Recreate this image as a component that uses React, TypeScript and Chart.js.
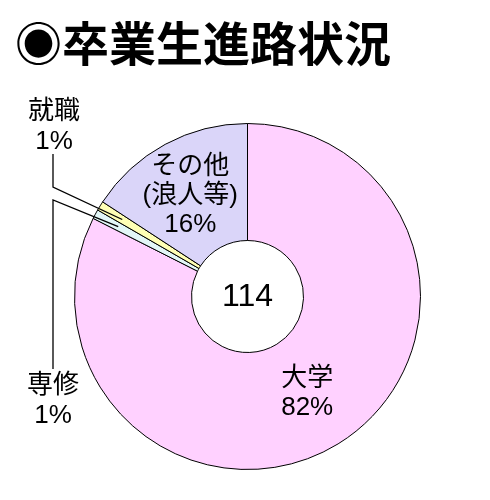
import { useEffect, useRef } from "react";
import { Chart, registerables } from "chart.js";

Chart.register(...registerables);

// 卒業生 114 名の進路
const categories = ["大学", "専修", "就職", "その他"];
const labelLines = [["大学"], ["専修"], ["就職"], ["その他", "(浪人等)"]];
const counts = [94, 1, 1, 18];
const percents = ["82%", "1%", "1%", "16%"];
const totalText = "114";
const colors = ["#FFD1FF", "#E3F7F7", "#FFFFB5", "#DAD5F9"];

const FONT = '"Liberation Sans", "Noto Sans CJK JP", sans-serif';

const annotate = {
  id: "annotate",
  afterDatasetsDraw(chart: any) {
    const ctx = chart.ctx as CanvasRenderingContext2D;
    const arcs = chart.getDatasetMeta(0).data as any[];
    ctx.save();
    ctx.fillStyle = "#000";
    ctx.strokeStyle = "#000";
    ctx.textAlign = "center";
    ctx.textBaseline = "middle";

    // center total
    const c = arcs[0];
    ctx.font = `32px ${FONT}`;
    ctx.fillText(totalText, c.x, c.y + 1);

    // labels inside the big slices
    ctx.font = `26px ${FONT}`;
    [0, 3].forEach((i) => {
      const a = arcs[i];
      const mid = (a.startAngle + a.endAngle) / 2;
      const r = 114;
      const lines = [...labelLines[i], percents[i]];
      const x = a.x + Math.cos(mid) * r - (i === 3 ? 3 : 0);
      const y = a.y + Math.sin(mid) * r;
      const step = 29;
      lines.forEach((t, k) => {
        ctx.fillText(t, x, y + (k - (lines.length - 1) / 2) * step);
      });
    });

    // leader lines for the small slices
    const tip = (i: number) => {
      const a = arcs[i];
      const mid = (a.startAngle + a.endAngle) / 2;
      const r = a.outerRadius - 26;
      return [a.x + Math.cos(mid) * r, a.y + Math.sin(mid) * r];
    };
    ctx.lineWidth = 1.3;
    const [jx, jy] = tip(2);
    ctx.beginPath();
    ctx.moveTo(53, 154);
    ctx.lineTo(53, 187);
    ctx.lineTo(jx, jy);
    ctx.stroke();
    const [sx, sy] = tip(1);
    ctx.beginPath();
    ctx.moveTo(53, 369);
    ctx.lineTo(53, 200);
    ctx.lineTo(sx, sy);
    ctx.stroke();

    ctx.font = `26px ${FONT}`;
    ctx.fillText(labelLines[2][0], 54, 112);
    ctx.fillText(percents[2], 54, 142);
    ctx.fillText(labelLines[1][0], 53, 386);
    ctx.fillText(percents[1], 53, 416);
    ctx.restore();
  },
};

export default function App() {
  const ref = useRef<HTMLCanvasElement | null>(null);

  useEffect(() => {
    if (!ref.current) return;
    const chart = new Chart(ref.current, {
      type: "doughnut",
      data: {
        labels: categories,
        datasets: [
          {
            data: counts,
            backgroundColor: colors,
            borderColor: "#000",
            borderWidth: 1,
          },
        ],
      },
      options: {
        animation: false,
        responsive: true,
        maintainAspectRatio: false,
        cutout: 56,
        layout: { padding: { left: 74, right: 69, top: 123, bottom: 30 } },
        plugins: {
          legend: { display: false },
          tooltip: { enabled: false },
        },
      },
      plugins: [annotate],
    });
    return () => chart.destroy();
  }, []);

  return (
    <div style={{ position: "fixed", left: 0, top: 0, width: 490, height: 500, background: "#fff" }}>
      <div
        style={{
          position: "absolute",
          left: 15,
          top: 17,
          fontFamily: '"Noto Sans CJK JP", sans-serif',
          fontWeight: 700,
          fontSize: 47,
          lineHeight: "47px",
          color: "#000",
          whiteSpace: "nowrap",
        }}
      >
        ◉卒業生進路状況
      </div>
      <canvas ref={ref} style={{ width: 490, height: 500 }} />
    </div>
  );
}
